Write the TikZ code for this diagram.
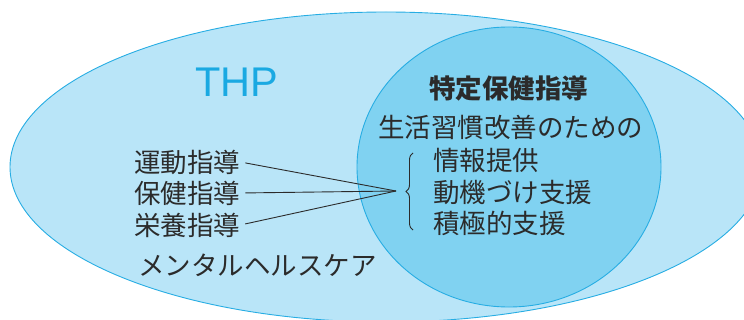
\documentclass[tikz,border=0pt]{standalone}
\usepackage{fontspec}
\newfontfamily\jp{Noto Sans CJK JP}
\newfontfamily\lat{Liberation Sans}
\usetikzlibrary{decorations.pathreplacing}
\definecolor{outerfill}{HTML}{B9E5F8}
\definecolor{innerfill}{HTML}{80D2F1}
\definecolor{edgeblue}{HTML}{27ADE3}
\definecolor{thpblue}{HTML}{1AA9E2}
\definecolor{ink}{HTML}{2B2B2B}
\begin{document}
\begin{tikzpicture}[x=1pt,y=-1pt,
  jptext/.style={font=\jp\fontsize{26.5}{30}\selectfont, text=ink, inner sep=0pt, anchor=west},
  jpbold/.style={font=\jp\bfseries\fontsize{26.5}{30}\selectfont, text=ink, inner sep=0pt, anchor=west},
  connector/.style={draw=ink, line width=0.9pt, shorten <=5pt},
  region/.style={draw=edgeblue, line width=0.9pt}]
\useasboundingbox (0,0) rectangle (744,320);
\clip (0,0) rectangle (744,320);
% outer THP ellipse
\path[region, fill=outerfill] (386,167) ellipse [x radius=376, y radius=155];
% inner specific health guidance circle
\path[region, fill=innerfill] (509,167) ellipse [x radius=152, y radius=140];
% labels
\node[font=\lat\fontsize{41.5}{44}\selectfont, text=thpblue, inner sep=0pt] (thp) at (237,82) {THP};
\node[jptext] (undo) at (134,162) {運動指導};
\node[jptext] (hoken) at (134,193) {保健指導};
\node[jptext] (eiyo) at (134,225) {栄養指導};
\node[jptext] (mental) at (138,265) {メンタルヘルスケア};
\node[jpbold] (tokutei) at (429,88) {特定保健指導};
\node[jptext] (seikatsu) at (378,127) {生活習慣改善のための};
\node[jptext] (joho) at (433,160) {情報提供};
\node[jptext] (doki) at (433,192) {動機づけ支援};
\node[jptext] (sekkyoku) at (433,223) {積極的支援};
% connectors
\coordinate (conv) at (396,191);
\draw[connector] (undo.east) -- (conv);
\draw[connector] (hoken.east) -- (conv);
\draw[connector] (eiyo.east) -- (conv);
% brace
\coordinate (bracebot) at (413,230);
\coordinate (bracetop) at (413,153);
\draw[ink, line width=0.9pt, decorate, decoration={brace, amplitude=7pt}] (bracebot) -- (bracetop);
\end{tikzpicture}
\end{document}
